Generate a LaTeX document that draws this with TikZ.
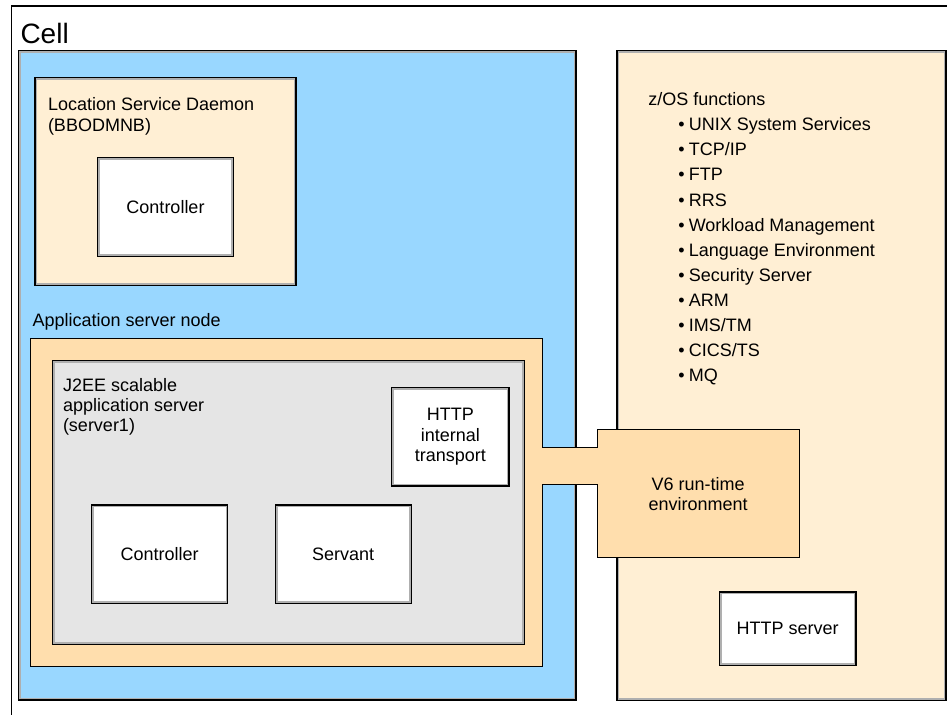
\documentclass[tikz,border=0pt]{standalone}
\usepackage{fontspec}
\setmainfont{Liberation Sans}
\definecolor{cellblue}{RGB}{153,215,255}
\definecolor{cream}{RGB}{255,239,212}
\definecolor{orangefill}{RGB}{255,222,173}
\definecolor{grayfill}{RGB}{229,229,229}
\definecolor{bevelgray}{RGB}{175,175,175}
\begin{document}
\begin{tikzpicture}[x=1pt,y=-1pt,
  bevel/.style={draw=black, line width=1.2pt, inner sep=0pt, outer sep=0pt, anchor=north west,
    path picture={\draw[line width=1.8pt, draw=bevelgray]
      ([shift={(1.4pt,1.4pt)}]path picture bounding box.south west) rectangle
      ([shift={(-1.4pt,-1.4pt)}]path picture bounding box.north east);}},
  body/.style={font=\fontsize{18}{20.5}\selectfont},
  lbl/.style={body, anchor=base west, inner sep=0pt, outer sep=0pt},
  bitem/.style={lbl},
]
\useasboundingbox (0,0) rectangle (947,715);
% outer frame
\coordinate (ftop) at (947,6);
\coordinate (fcorner) at (11.5,6);
\coordinate (fbot) at (11.5,715);
\draw[line width=1.1pt] (ftop) -- (fcorner) -- (fbot);
\node[anchor=base west, inner sep=0pt, font=\fontsize{28}{32}\selectfont] (celltitle) at (20.3,43.3) {Cell};

% main areas
\node[bevel, fill=cellblue, minimum width=557.5pt, minimum height=649.5pt] (cellarea) at (18.5,50.5) {};
\node[bevel, fill=cream, minimum width=329pt, minimum height=650pt] (zos) at (617,50.5) {};

% Location service daemon
\node[bevel, fill=cream, minimum width=261pt, minimum height=208.4pt] (lsd) at (35,77.3) {};
\node[bevel, fill=white, minimum width=136.4pt, minimum height=99pt, body] (lsdctrl) at (97.3,157.7) {Controller};
\node[lbl] (lsdt1) at (48,110.7) {Location Service Daemon};
\node[lbl] (lsdt2) at (48,131.5) {(BBODMNB)};

% Application server node with V6 run-time environment
\node[lbl] (asnt) at (32.5,326) {Application server node};
\draw[fill=orangefill, line width=1pt]
  (30.8,338.3) -- (542.5,338.3) -- (542.5,447.7) -- (597.3,447.7) -- (597.3,429.7)
  -- (799,429.7) -- (799,557) -- (597.3,557) -- (597.3,484.7) -- (542.5,484.7)
  -- (542.5,666.7) -- (30.8,666.7) -- cycle;
\node[body, align=center] (v6) at (698.2,494) {V6 run-time\\environment};

% J2EE server
\node[bevel, fill=grayfill, minimum width=472.1pt, minimum height=283.6pt] (j2ee) at (52.6,360.7) {};
\node[lbl] (j2t1) at (63,391.5) {J2EE scalable};
\node[lbl] (j2t2) at (63,411.5) {application server};
\node[lbl] (j2t3) at (63,431.5) {(server1)};
\node[bevel, fill=white, minimum width=117.1pt, minimum height=98.3pt, body, align=center] (httpint) at (391.8,387.7) {HTTP\\internal\\transport};
\node[bevel, fill=white, minimum width=136.5pt, minimum height=98.3pt, body] (ctrl) at (91.3,505) {Controller};
\node[bevel, fill=white, minimum width=136pt, minimum height=98.3pt, body] (servant) at (275.2,505) {Servant};

% z/OS functions
\node[lbl] (zost) at (648.3,105.3) {z/OS functions};
\foreach \t [count=\i from 0] in {UNIX System Services,TCP/IP,FTP,RRS,Workload Management,Language Environment,Security Server,ARM,IMS/TM,CICS/TS,MQ}{
  \node[bitem] (zi\i) at (678.3,130.7+25.1*\i) {\textbullet\hspace{4.2pt}\t};
}
\node[bevel, fill=white, minimum width=136.7pt, minimum height=73.7pt, body] (httpsrv) at (719.3,592) {HTTP server};
\end{tikzpicture}
\end{document}
